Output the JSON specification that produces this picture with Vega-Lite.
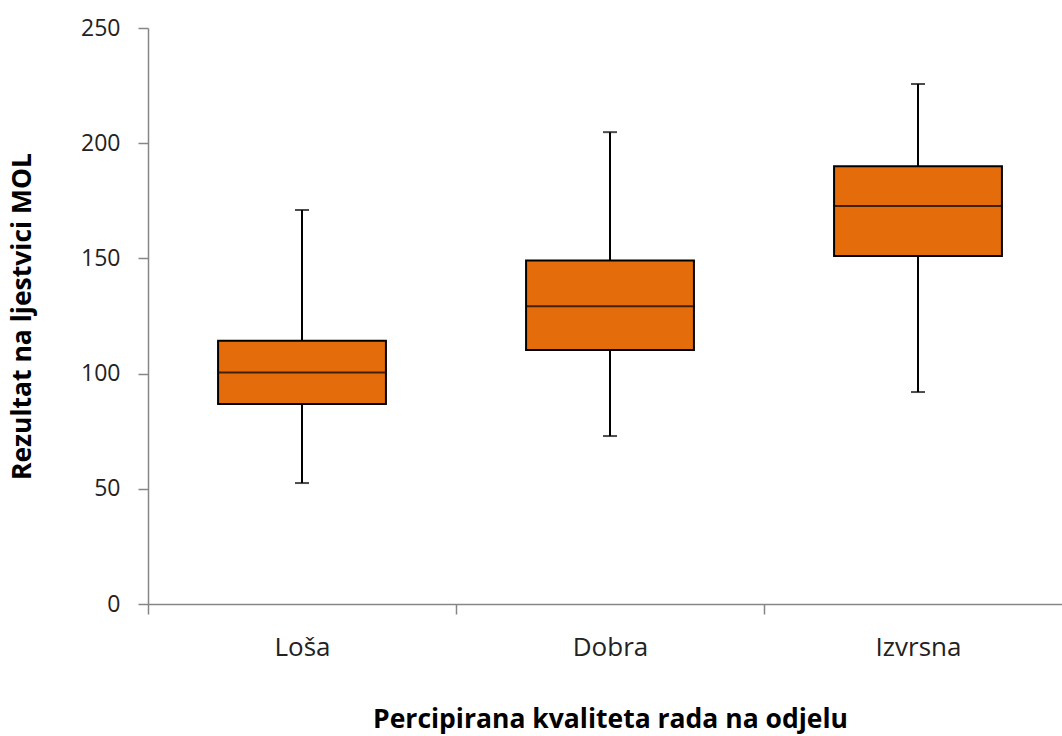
{
  "$schema": "https://vega.github.io/schema/vega-lite/v6.json",
  "autosize": {"type": "none"},
  "padding": {"left": 148, "top": 28, "right": 0, "bottom": 132},
  "width": 914,
  "height": 576,
  "config": {
    "view": {"stroke": null},
    "font": "Open Sans",
    "axis": {
      "domainColor": "#868686",
      "domainWidth": 1.5,
      "tickColor": "#868686",
      "tickWidth": 1.5,
      "tickSize": 10,
      "grid": false,
      "labelColor": "#222222",
      "titleColor": "#000000",
      "titleFont": "Open Sans",
      "titleFontWeight": "bold",
      "titleFontSize": 26.5,
      "labelFont": "Open Sans"
    }
  },
  "data": {
    "values": [
      {"kvaliteta": "Loša", "min": 52.5, "q1": 86.8, "median": 100.5, "q3": 114.3, "max": 171},
      {"kvaliteta": "Dobra", "min": 72.9, "q1": 110.2, "median": 129.2, "q3": 149.1, "max": 204.8},
      {"kvaliteta": "Izvrsna", "min": 92, "q1": 151, "median": 172.7, "q3": 190, "max": 225.7}
    ]
  },
  "encoding": {
    "x": {
      "field": "kvaliteta",
      "type": "nominal",
      "sort": null,
      "scale": {"range": [0, 924], "paddingInner": 0, "paddingOuter": 0},
      "axis": {
        "title": "Percipirana kvaliteta rada na odjelu",
        "labelAngle": 0,
        "labelFontSize": 26,
        "labelPadding": 20,
        "titlePadding": 46,
        "tickBand": "extent"
      }
    }
  },
  "layer": [
    {
      "mark": {"type": "rule", "color": "#000000", "strokeWidth": 2},
      "encoding": {
        "y": {
          "field": "min",
          "type": "quantitative",
          "scale": {"domain": [0, 250], "nice": false},
          "axis": {
            "title": "Rezultat na ljestvici MOL",
            "values": [0, 50, 100, 150, 200, 250],
            "labelFontSize": 23,
            "labelPadding": 18,
            "titlePadding": 44
          }
        },
        "y2": {"field": "max"}
      }
    },
    {
      "mark": {"type": "bar", "fill": "#E46C0A", "stroke": "#000000", "strokeWidth": 2, "width": {"band": 0.545}},
      "encoding": {
        "y": {"field": "q1", "type": "quantitative"},
        "y2": {"field": "q3"}
      }
    },
    {
      "mark": {"type": "tick", "color": "#000000", "size": 168, "thickness": 2},
      "encoding": {"y": {"field": "median", "type": "quantitative"}}
    },
    {
      "mark": {"type": "tick", "color": "#000000", "size": 14, "thickness": 2},
      "encoding": {"y": {"field": "min", "type": "quantitative"}}
    },
    {
      "mark": {"type": "tick", "color": "#000000", "size": 14, "thickness": 2},
      "encoding": {"y": {"field": "max", "type": "quantitative"}}
    }
  ]
}
